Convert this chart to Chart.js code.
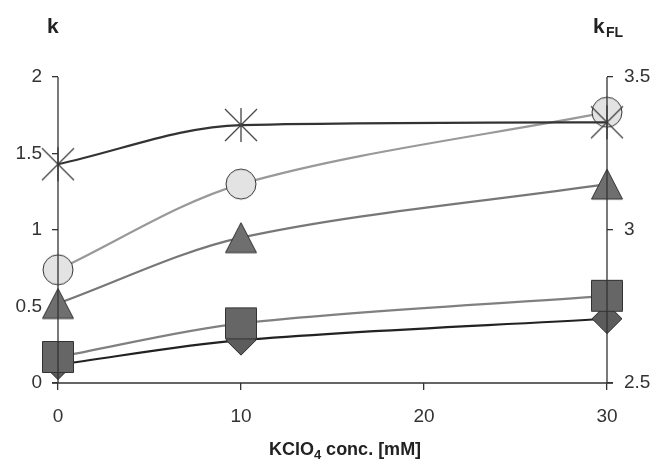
<!DOCTYPE html>
<html>
<head>
<meta charset="utf-8">
<script src="https://cdn.jsdelivr.net/npm/chart.js@4"></script>
<style>
  body { margin: 0; background: #fff; }
  #wrap { width: 658px; height: 461px; position: relative; }
</style>
</head>
<body>
<div id="wrap"><canvas id="chart"></canvas></div>
<script>
// KClO4 concentration (mM)
const conc = [0, 10, 30];
// right axis (kFL)
const kFL = [3.215, 3.343, 3.352];
// left axis (k)
const kCircle = [0.74, 1.30, 1.77];
const kTriangle = [0.52, 0.95, 1.30];
const kSquare = [0.17, 0.39, 0.57];
const kDiamond = [0.12, 0.28, 0.42];

const xTicks = [0, 10, 20, 30];
const kTicks = [0, 0.5, 1, 1.5, 2];
const kflTicks = [2.5, 3, 3.5];

const FONT = "'Liberation Sans', Arial, sans-serif";

function pts(ys) {
  return conc.map((x, i) => ({ x: x, y: ys[i] }));
}

// Marker drawing
function marker(kind, fill) {
  const c = document.createElement('canvas');
  c.width = 36; c.height = 36;
  const g = c.getContext('2d');
  g.lineWidth = 1;
  g.strokeStyle = '#333';
  g.fillStyle = fill;
  g.beginPath();
  if (kind === 'star') {
    g.lineWidth = 1.3;
    g.strokeStyle = '#444';
    g.moveTo(2, 2); g.lineTo(34, 34);
    g.moveTo(34, 2); g.lineTo(2, 34);
    g.moveTo(18, 1); g.lineTo(18, 35);
    g.stroke();
    return c;
  }
  if (kind === 'triangle') {
    g.moveTo(18, 3); g.lineTo(33.5, 33); g.lineTo(2.5, 33); g.closePath();
  } else if (kind === 'square') {
    g.rect(2.5, 2.5, 31, 31);
  } else if (kind === 'diamond') {
    g.moveTo(18, 3); g.lineTo(33, 18); g.lineTo(18, 33); g.lineTo(3, 18); g.closePath();
  } else {
    g.arc(18, 18, 15, 0, Math.PI * 2);
  }
  g.fill();
  g.stroke();
  return c;
}

function series(label, ys, axis, lineColor, style, mono) {
  return {
    label: label,
    data: pts(ys),
    yAxisID: axis,
    borderColor: lineColor,
    borderWidth: 2.2,
    tension: 0.32,
    cubicInterpolationMode: mono ? 'monotone' : 'default',
    pointStyle: style,
    pointRadius: 16,
    clip: false
  };
}

// Titles and axis lines drawn over the markers
const overlay = {
  id: 'overlay',
  afterDatasetsDraw(chart) {
    const ctx = chart.ctx;
    const a = chart.chartArea;
    ctx.save();
    ctx.strokeStyle = '#333';
    ctx.lineWidth = 1.3;
    ctx.beginPath();
    ctx.moveTo(a.left, a.top); ctx.lineTo(a.left, a.bottom);
    ctx.moveTo(a.right, a.top); ctx.lineTo(a.right, a.bottom);
    ctx.moveTo(a.left - 6, a.bottom); ctx.lineTo(a.right + 6, a.bottom);
    ctx.stroke();

    ctx.fillStyle = '#222';
    ctx.textBaseline = 'alphabetic';
    ctx.textAlign = 'left';
    ctx.font = 'bold 21px ' + FONT;
    ctx.fillText('k', 47, 33);
    ctx.fillText('k', 593, 33);
    ctx.font = 'bold 14px ' + FONT;
    ctx.fillText('FL', 606, 37);

    // x axis title with subscript
    const big = 'bold 18px ' + FONT;
    const small = 'bold 13px ' + FONT;
    const p1 = 'KClO', p2 = '4', p3 = ' conc. [mM]';
    ctx.font = big;
    const w1 = ctx.measureText(p1).width, w3 = ctx.measureText(p3).width;
    ctx.font = small;
    const w2 = ctx.measureText(p2).width;
    let x = 345 - (w1 + w2 + w3) / 2;
    ctx.font = big;
    ctx.fillText(p1, x, 455);
    x += w1;
    ctx.font = small;
    ctx.fillText(p2, x, 459);
    x += w2;
    ctx.font = big;
    ctx.fillText(p3, x, 455);
    ctx.restore();
  }
};

function tickOpts(pad) {
  return {
    color: '#333',
    font: { family: FONT, size: 19 },
    autoSkip: false,
    padding: pad,
    callback: (v) => String(v)
  };
}

new Chart(document.getElementById('chart'), {
  type: 'line',
  data: {
    datasets: [
      series('kFL', kFL, 'yR', '#333', marker('star', '#fff'), true),
      series('circle', kCircle, 'yL', '#999', marker('circle', '#e3e3e3')),
      series('triangle', kTriangle, 'yL', '#777', marker('triangle', '#6f6f6f')),
      series('square', kSquare, 'yL', '#808080', marker('square', '#666')),
      series('diamond', kDiamond, 'yL', '#222', marker('diamond', '#5c5c5c'))
    ]
  },
  options: {
    responsive: true,
    maintainAspectRatio: false,
    animation: false,
    layout: { padding: { top: 77, left: 0, right: 0, bottom: 0 } },
    plugins: { legend: { display: false }, tooltip: { enabled: false } },
    scales: {
      x: {
        type: 'linear',
        min: 0, max: 30,
        afterBuildTicks: (s) => { s.ticks = xTicks.map(v => ({ value: v })); },
        border: { display: false },
        grid: { drawOnChartArea: false, color: '#333', tickLength: 7, lineWidth: 1.3 },
        ticks: tickOpts(15),
        afterFit: (s) => { s.height = 78; }
      },
      yL: {
        position: 'left',
        min: 0, max: 2,
        afterBuildTicks: (s) => { s.ticks = kTicks.map(v => ({ value: v })); },
        border: { display: false },
        grid: { drawOnChartArea: false, color: '#333', tickLength: 6, lineWidth: 1.3 },
        ticks: tickOpts(10),
        afterFit: (s) => { s.width = 58; }
      },
      yR: {
        position: 'right',
        min: 2.5, max: 3.5,
        afterBuildTicks: (s) => { s.ticks = kflTicks.map(v => ({ value: v })); },
        border: { display: false },
        grid: { drawOnChartArea: false, color: '#333', tickLength: 6, lineWidth: 1.3 },
        ticks: tickOpts(11),
        afterFit: (s) => { s.width = 51; }
      }
    }
  },
  plugins: [overlay]
});
</script>
</body>
</html>
